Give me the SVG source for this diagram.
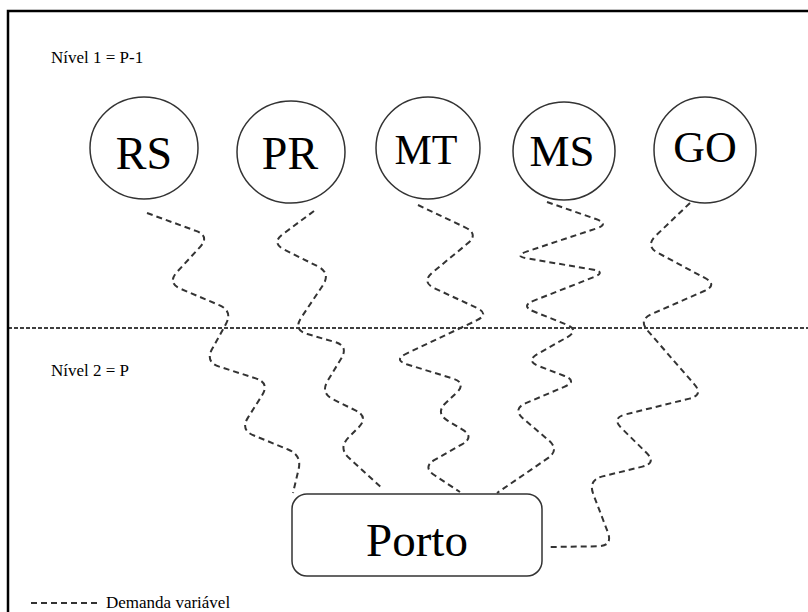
<svg xmlns="http://www.w3.org/2000/svg" width="808" height="612" viewBox="0 0 808 612">
<style>
  .frame { stroke: #000; stroke-width: 2.5; fill: none; }
  .node { fill: #fff; stroke: #333; stroke-width: 1.5; }
  .lbl { font-family: "Liberation Serif", "Times New Roman", serif; fill: #000; text-anchor: middle; }
  .small { font-family: "Liberation Serif", "Times New Roman", serif; fill: #000; font-size: 17px; }
  .wave { fill: none; stroke: #333; stroke-width: 2; stroke-dasharray: 6 4; stroke-linecap: butt; }
  .level { stroke: #000; stroke-width: 1.3; stroke-dasharray: 4 2; fill: none; }
</style>
<rect width="808" height="612" fill="#fff"/>
<path class="frame" d="M8,612 V11 H808"/>
<text class="small" x="51" y="63">Nível 1 = P-1</text>
<text class="small" x="51" y="376">Nível 2 = P</text>
<line class="level" x1="8" y1="328" x2="808" y2="328"/>
<g id="connectors">
  <path class="wave" d="M147,213 L195.9,230.9 Q210,236 199.95,247.1 L177.05,271.9 Q167,283 180.8,288.85 L219.2,305.15 Q233,311 225.8,324.2 L212.2,348.8 Q205,362 219.25,366.65 L255.75,378.35 Q270,383 261.9,395.6 L248.1,417.4 Q240,430 253.95,435.55 L288.05,449.45 Q302,455 298.55,469.55 L293,493"/>
  <path class="wave" d="M314,211 L283,234 Q271,243 284.35,249.75 L317.65,266.25 Q331,273 322.75,285.45 L301.25,317.55 Q293,330 307.4,334.05 L334.6,341.95 Q349,346 341.05,358.75 L327.95,380.25 Q320,393 333.5,399.6 L355.5,410.4 Q369,417 358.35,427.65 L348.65,437.35 Q338,448 349.1,458.05 L383,489"/>
  <path class="wave" d="M418,205 L465.5,227.55 Q479,234 467.45,243.6 L432.55,272.4 Q421,282 434.65,288.3 L476.35,307.7 Q490,314 476.5,320.45 L406.5,353.55 Q393,360 407.4,364.5 L452.75,378.5 Q467,383 456.05,393.2 L445.95,402.8 Q435,413 447.9,420.8 L462.1,429.35 Q475,437 461.95,444.35 L435.05,459.65 Q422,467 434.6,475.25 L460,492"/>
  <path class="wave" d="M547,202 L595.9,219.05 Q610,224 595.75,228.65 L527.25,251.35 Q513,256 527.85,258.55 L592.15,269.45 Q607,272 593.05,277.4 L533.95,300.6 Q520,306 533.95,311.55 L566.05,324.45 Q580,330 566.95,337.35 L538.05,353.65 Q525,361 539.1,366.25 L563.9,375.75 Q578,381 564.2,386.85 L525.8,403.15 Q512,409 523.4,418.75 L548.6,440.25 Q560,450 547.55,458.4 L497,493"/>
  <path class="wave" d="M690,203 L655.8,235.65 Q645,246 658.2,253.05 L704.8,277.95 Q718,285 704.2,291 L651.8,314 Q638,320 648.05,331.1 L693.95,383.9 Q704,395 689.45,398.6 L625.55,414.4 Q611,418 621.8,428.5 L646.2,452.5 Q657,463 642.45,466.6 L602.55,476.4 Q588,480 593.25,494.1 L607.75,532.05 Q613,546 598,546.3 L548,547"/>
</g>
<g id="RS"><ellipse class="node" cx="144" cy="148" rx="54" ry="51"/><text class="lbl" x="144" y="169" font-size="46">RS</text></g>
<g id="PR"><ellipse class="node" cx="291" cy="152" rx="54" ry="51"/><text class="lbl" x="290" y="169" font-size="46">PR</text></g>
<g id="MT"><ellipse class="node" cx="428" cy="148" rx="52" ry="51"/><text class="lbl" x="426" y="164" font-size="42">MT</text></g>
<g id="MS"><ellipse class="node" cx="564" cy="151" rx="51" ry="49"/><text class="lbl" x="562" y="166" font-size="45">MS</text></g>
<g id="GO"><ellipse class="node" cx="705" cy="150" rx="51" ry="53"/><text class="lbl" x="705" y="162" font-size="44">GO</text></g>
<g id="Porto"><rect class="node" x="292" y="494" width="250" height="82" rx="15" ry="15" stroke-width="2"/><text class="lbl" x="417" y="556" font-size="47">Porto</text></g>
<g id="legend">
  <line class="wave" x1="31" y1="603" x2="97" y2="603" stroke-dasharray="7 4"/>
  <text class="small" x="106" y="608" font-size="15">Demanda variável</text>
</g>
</svg>
